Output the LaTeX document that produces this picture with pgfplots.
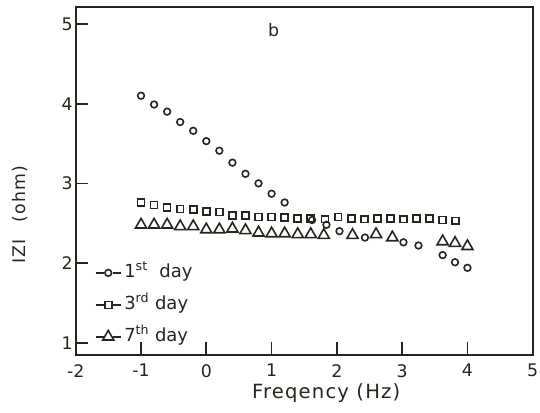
\documentclass[border=0pt]{standalone}
\usepackage{pgfplots}
\pgfplotsset{compat=1.18}
\usepackage{fontspec}
\setmainfont{DejaVu Sans}
\definecolor{ink}{RGB}{38,38,30}
\pgfplotsset{mylegend/.style={legend image code/.code={%
  \draw[line width=1pt, ink] (0pt,0pt) -- (6pt,0pt);
  \draw[line width=1pt, ink] (13pt,0pt) -- (19pt,0pt);
  \draw[##1] plot coordinates {(9.5pt,0pt)};}}}
\begin{document}
\begin{tikzpicture}
\begin{axis}[
  at={(0pt,0pt)}, anchor=south west,
  scale only axis, width=342.75pt, height=261.2pt,
  xmin=-2, xmax=5, ymin=0.846, ymax=5.217,
  axis line style={line width=1.25pt, color=ink},
  tick pos=left, tick align=inside,
  major tick length=9.5pt,
  tick style={line width=1.25pt, color=ink},
  xtick={-2,...,5}, ytick={1,...,5},
  /pgf/number format/assume math mode=true,
  ticklabel style={font=\fontsize{13}{15}\selectfont, text=ink},
  xticklabel style={yshift=-3.4pt},
  yticklabel style={xshift=1.3pt},
  xlabel={Freqency (Hz)},
  xlabel style={at={(axis description cs:0.548,-0.1235)}, anchor=base,
    font=\fontsize{14.7}{17}\selectfont\addfontfeature{LetterSpace=6}, text=ink},
  ylabel={IZI\hspace{1em}(ohm)},
  ylabel style={at={(axis description cs:-0.1219,0.402)}, anchor=center,
    font=\fontsize{13}{15}\selectfont\addfontfeature{LetterSpace=6}, text=ink},
  legend style={draw=none, fill=none, at={(axis description cs:0.042,0.144)},
    anchor=west, inner sep=0pt, outer sep=0pt,
    font=\fontsize{13.5}{15}\selectfont, text=ink, row sep=7pt,
    nodes={inner sep=2pt, text height=10pt, text depth=3pt}},
  legend cell align=left,
]
\addplot[only marks, mark=o, mark size=2.5pt, mark options={line width=1.2pt, color=ink}, mylegend] coordinates {
(-1.0,4.10) (-0.8,3.99) (-0.6,3.90) (-0.4,3.77) (-0.2,3.66) (0.0,3.53)
(0.2,3.41) (0.4,3.26) (0.6,3.12) (0.8,3.00) (1.0,2.87) (1.2,2.76)
(1.62,2.54) (1.84,2.48) (2.04,2.40) (2.43,2.32) (3.02,2.26) (3.25,2.22)
(3.62,2.10) (3.81,2.01) (4.0,1.94)};
\addlegendentry{1\textsuperscript{st}\ \ day}
\addplot[only marks, mark=square, mark size=2.6pt, mark options={line width=1.2pt, color=ink}, mylegend] coordinates {
(-1.0,2.76) (-0.8,2.73) (-0.6,2.70) (-0.4,2.68) (-0.2,2.67) (0.0,2.65)
(0.2,2.64) (0.4,2.60) (0.6,2.60) (0.8,2.58) (1.0,2.58) (1.2,2.57)
(1.4,2.56) (1.6,2.56) (1.82,2.55) (2.02,2.58) (2.22,2.56) (2.42,2.55)
(2.62,2.56) (2.82,2.56) (3.02,2.55) (3.22,2.56) (3.42,2.56) (3.62,2.54)
(3.82,2.53)};
\addlegendentry{3\textsuperscript{rd} day}
\addplot[only marks, mark=triangle, mark size=4.8pt, mark options={line width=1.2pt, color=ink}, mylegend] coordinates {
(-1.0,2.48) (-0.8,2.48) (-0.6,2.48) (-0.4,2.46) (-0.2,2.46) (0.0,2.42)
(0.2,2.42) (0.4,2.43) (0.6,2.41) (0.8,2.38) (1.0,2.37) (1.2,2.37)
(1.4,2.36) (1.6,2.36) (1.8,2.35) (2.24,2.35) (2.6,2.36) (2.85,2.32)
(3.62,2.27) (3.81,2.25) (4.0,2.21)};
\addlegendentry{7\textsuperscript{th} day}
\node[font=\fontsize{13}{15}\selectfont, text=ink] at (axis cs:1.03,4.92) {b};
\end{axis}
\pgfresetboundingbox
\path[use as bounding box] (-56.8pt,-43.5pt) rectangle (348.2pt,266.25pt);
\end{tikzpicture}
\end{document}
